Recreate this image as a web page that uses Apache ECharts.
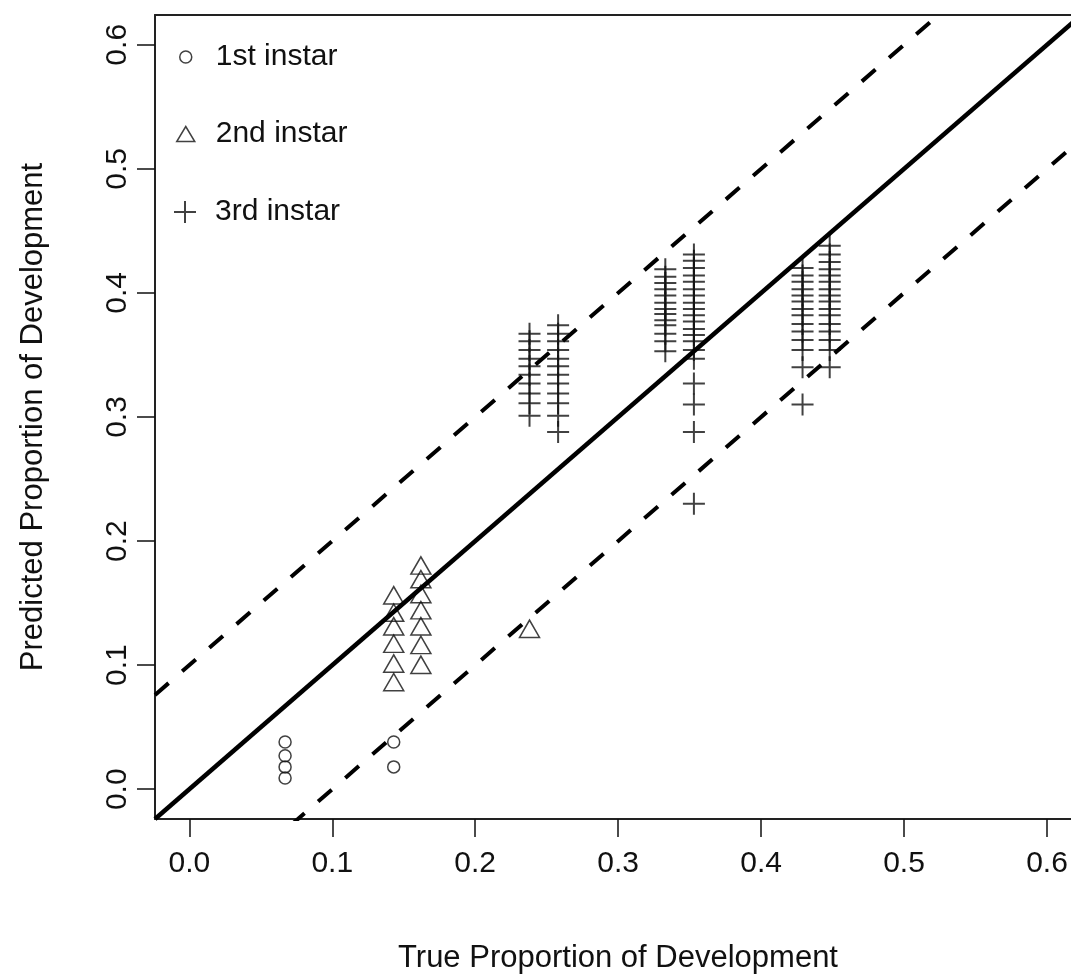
<!DOCTYPE html>
<html>
<head>
<meta charset="utf-8">
<script src="https://cdn.jsdelivr.net/npm/echarts@6/dist/echarts.min.js"></script>
<style>
  html, body { margin: 0; padding: 0; background: #fff; }
  #chart { width: 1071px; height: 979px; }
</style>
</head>
<body>
<div id="chart"></div>
<script>
// Axis ticks and the plotted ranges (0–0.6 padded by 4%; right side runs off the page)
const tickValues = [0, 0.1, 0.2, 0.3, 0.4, 0.5, 0.6];
const xRange = [-0.024, 0.6168];
const yRange = [-0.024, 0.624];

// 1st instar: true vs predicted proportion of development
const firstX = [0.067, 0.067, 0.067, 0.067, 0.143, 0.143];
const firstY = [0.038, 0.027, 0.018, 0.009, 0.038, 0.018];

// 2nd instar
const secondX = [0.143, 0.143, 0.143, 0.143, 0.143, 0.143,
                 0.162, 0.162, 0.162, 0.162, 0.162, 0.162, 0.162,
                 0.238];
const secondY = [0.154, 0.140, 0.129, 0.115, 0.099, 0.084,
                 0.178, 0.167, 0.155, 0.142, 0.129, 0.114, 0.098,
                 0.127];

// 3rd instar
const thirdX = [
  0.238, 0.238, 0.238, 0.238, 0.238, 0.238, 0.238, 0.238, 0.238, 0.238,
  0.258, 0.258, 0.258, 0.258, 0.258, 0.258, 0.258, 0.258, 0.258, 0.258, 0.258, 0.258,
  0.333, 0.333, 0.333, 0.333, 0.333, 0.333, 0.333, 0.333, 0.333, 0.333, 0.333, 0.333, 0.333,
  0.353, 0.353, 0.353, 0.353, 0.353, 0.353, 0.353, 0.353, 0.353, 0.353,
  0.353, 0.353, 0.353, 0.353, 0.353, 0.353, 0.353, 0.353, 0.353, 0.353,
  0.429, 0.429, 0.429, 0.429, 0.429, 0.429, 0.429, 0.429, 0.429, 0.429, 0.429, 0.429, 0.429, 0.429,
  0.448, 0.448, 0.448, 0.448, 0.448, 0.448, 0.448, 0.448, 0.448, 0.448, 0.448, 0.448, 0.448, 0.448, 0.448, 0.448
];
const thirdY = [
  0.367, 0.361, 0.354, 0.347, 0.341, 0.334, 0.327, 0.319, 0.311, 0.301,
  0.374, 0.367, 0.361, 0.354, 0.347, 0.341, 0.334, 0.327, 0.319, 0.311, 0.301, 0.288,
  0.419, 0.413, 0.408, 0.403, 0.398, 0.392, 0.387, 0.383, 0.378, 0.374, 0.367, 0.361, 0.353,
  0.431, 0.426, 0.420, 0.414, 0.409, 0.403, 0.398, 0.392, 0.387, 0.382,
  0.377, 0.371, 0.366, 0.361, 0.354, 0.347, 0.327, 0.310, 0.288, 0.230,
  0.420, 0.414, 0.409, 0.403, 0.398, 0.393, 0.387, 0.382, 0.375, 0.369, 0.362, 0.354, 0.340, 0.310,
  0.438, 0.431, 0.425, 0.419, 0.414, 0.409, 0.403, 0.398, 0.393, 0.387, 0.382, 0.375, 0.369, 0.362, 0.354, 0.340
];

// Reference lines y = x + b (1:1 line and ±0.1 bands), drawn across the full padded range
const lineIntercepts = [0, 0.1, -0.1];
const lineSpan = [-0.024, 0.624];

const FONT = '"Liberation Sans", Arial, Helvetica, sans-serif';
const INK = '#111';
const FRAME = '#222';
const PLUS = 'path://M10,0h2v10h10v2h-10v10h-2v-10h-10v-2h10z';

const pairs = (xs, ys) => xs.map((x, i) => [x, ys[i]]);
const refLine = b => lineSpan.map(x => [x, x + b]);

const chart = echarts.init(document.getElementById('chart'), null, { renderer: 'canvas' });

const tickStyle = {
  show: true, inside: false, length: 18,
  customValues: tickValues,
  lineStyle: { color: INK, width: 1.5 }
};
const labelStyle = {
  customValues: tickValues,
  formatter: v => v.toFixed(1),
  fontFamily: FONT, fontSize: 30, color: INK
};
const frameLine = { show: true, onZero: false, lineStyle: { color: FRAME, width: 2 } };
const nameStyle = { fontFamily: FONT, fontSize: 31, color: INK };

const legendCommon = {
  orient: 'vertical', selectedMode: false,
  textStyle: { fontFamily: FONT, fontSize: 30, color: INK, lineHeight: 34 }
};

chart.setOption({
  backgroundColor: '#fff',
  animation: false,
  grid: { left: 155, top: 15, right: 0, bottom: 157, show: false },
  xAxis: [
    {
      type: 'value', position: 'bottom',
      min: xRange[0], max: xRange[1],
      axisLine: frameLine, splitLine: { show: false },
      axisTick: tickStyle,
      axisLabel: Object.assign({}, labelStyle, { margin: 30 }),
      name: 'True Proportion of Development',
      nameLocation: 'middle', nameGap: 124,
      nameTextStyle: Object.assign({}, nameStyle, { padding: [0, 0, 0, 10] })
    },
    {
      type: 'value', position: 'top',
      min: xRange[0], max: xRange[1],
      axisLine: frameLine, splitLine: { show: false },
      axisTick: { show: false }, axisLabel: { show: false }
    }
  ],
  yAxis: {
    type: 'value',
    min: yRange[0], max: yRange[1],
    axisLine: frameLine, splitLine: { show: false },
    axisTick: tickStyle,
    axisLabel: Object.assign({}, labelStyle, { margin: 22, rotate: 90 }),
    name: 'Predicted Proportion of Development',
    nameLocation: 'middle', nameGap: 106,
    nameTextStyle: nameStyle
  },
  legend: [
    Object.assign({}, legendCommon, {
      left: 174, top: 35, itemWidth: 12, itemHeight: 12,
      textStyle: Object.assign({}, legendCommon.textStyle, { padding: [0, 0, 0, 19] }),
      data: [{ name: '1st instar', icon: 'circle',
               itemStyle: { color: 'rgba(0,0,0,0)', borderColor: INK, borderWidth: 1.5 } }]
    }),
    Object.assign({}, legendCommon, {
      left: 171, top: 112, itemWidth: 18, itemHeight: 15,
      textStyle: Object.assign({}, legendCommon.textStyle, { padding: [0, 0, 0, 16] }),
      data: [{ name: '2nd instar', icon: 'triangle',
               itemStyle: { color: 'rgba(0,0,0,0)', borderColor: INK, borderWidth: 1.5 } }]
    }),
    Object.assign({}, legendCommon, {
      left: 169, top: 190, itemWidth: 22, itemHeight: 22,
      textStyle: Object.assign({}, legendCommon.textStyle, { padding: [0, 0, 0, 14] }),
      data: [{ name: '3rd instar', icon: PLUS,
               itemStyle: { color: INK, borderWidth: 0 } }]
    })
  ],
  series: [
    {
      name: '1st instar', type: 'scatter',
      data: pairs(firstX, firstY),
      symbol: 'circle', symbolSize: 12,
      itemStyle: { color: 'rgba(0,0,0,0)', borderColor: INK, borderWidth: 1.5 }
    },
    {
      name: '2nd instar', type: 'scatter',
      data: pairs(secondX, secondY),
      symbol: 'triangle', symbolSize: [20, 17.3], symbolOffset: [0, -2.85],
      itemStyle: { color: 'rgba(0,0,0,0)', borderColor: INK, borderWidth: 1.5 }
    },
    {
      name: '3rd instar', type: 'scatter',
      data: pairs(thirdX, thirdY),
      symbol: PLUS, symbolSize: 22,
      itemStyle: { color: INK, borderWidth: 0 }
    }
  ].concat(lineIntercepts.map(b => ({
    type: 'line',
    data: refLine(b),
    showSymbol: false,
    clip: true,
    z: 5,
    lineStyle: {
      color: '#000',
      width: b === 0 ? 4.5 : 4,
      type: b === 0 ? 'solid' : [18, 18]
    }
  })))
});
</script>
</body>
</html>
